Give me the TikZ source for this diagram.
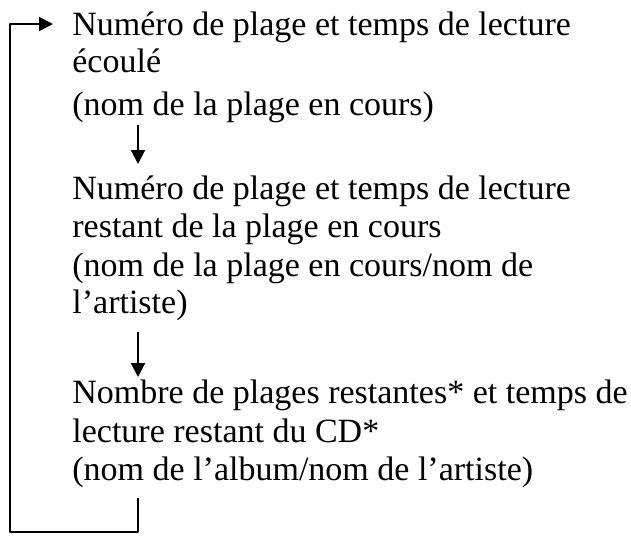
\documentclass[tikz,border=0pt]{standalone}
\usepackage{fontspec}
\setmainfont{Liberation Serif}
\usetikzlibrary{arrows.meta}
\begin{document}
\begin{tikzpicture}[x=0.5pt, y=-0.5pt, font=\fontsize{17}{20}\selectfont, line join=round, >={Triangle[length=7pt,width=7pt]}, ligne/.style={line width=1pt}, txt/.style={anchor=base west, inner sep=0pt}]
				\useasboundingbox (0,0) rectangle (631,537);
				\foreach \n/\y/\t in {1/35/{Numéro de plage et temps de lecture}, 2/72/{écoulé}, 3/115/{(nom de la plage en cours)}, 4/199/{Numéro de plage et temps de lecture}, 5/237/{restant de la plage en cours}, 6/276/{(nom de la plage en cours/nom de}, 7/313/{l’artiste)}, 8/403/{Nombre de plages restantes* et temps de}, 9/442/{lecture restant du CD*}, 10/480/{(nom de l’album/nom de l’artiste)}}
					\node[txt] (l\n) at (72,\y) {\t};
				\coordinate (A1) at (138,125);
				\coordinate (B1) at (138,164);
				\coordinate (A2) at (138,332);
				\coordinate (B2) at (138,377);
				\coordinate (R0) at (138,498);
				\coordinate (R1) at (10,532);
				\coordinate (R2) at (53,24);
				\draw[ligne,->](A1)--(B1);
				\draw[ligne,->](A2)--(B2);
				\draw[ligne,->](R0)|-(R1)|-(R2);
			\end{tikzpicture}
\end{document}
